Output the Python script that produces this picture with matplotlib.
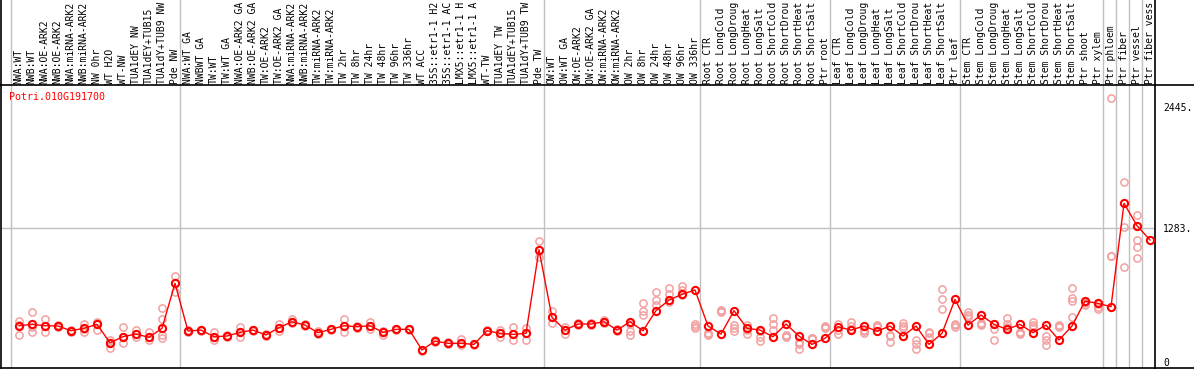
#Potri.010G191700 表达谱图, 88 个样品, 均值连线 + 重复点
import numpy as np
from matplotlib import pyplot as plt
from matplotlib.lines import Line2D

gene = 'Potri.010G191700'
samples = ['NWA:WT','NWB:WT','NWA:OE-ARK2','NWB:OE-ARK2','NWA:miRNA-ARK2','NWB:miRNA-ARK2',
           'NW 0hr','WT H2O','WT-NW','TUA1dEY NW','TUA1dEY+TUB15','TUA1dY+TUB9 NW','Pde NW',
           'NWA:WT GA','NWBWT GA','TW:WT','TW:WT GA','NWA:OE-ARK2 GA','NWB:OE-ARK2 GA','TW:OE-ARK2',
           'TW:OE-ARK2 GA','NWA:miRNA-ARK2','NWB:miRNA-ARK2','TW:miRNA-ARK2','TW:miRNA-ARK2',
           'TW 2hr','TW 8hr','TW 24hr','TW 48hr','TW 96hr','TW 336hr','WT ACC',
           '35S::etr1-1 H2','35S::etr1-1 AC','LMX5::etr1-1 H','LMX5::etr1-1 A','WT-TW',
           'TUA1dEY TW','TUA1dEY+TUB15','TUA1dY+TUB9 TW','Pde TW',
           'OW:WT','OW:WT GA','OW:OE-ARK2','OW:OE-ARK2 GA','OW:miRNA-ARK2','OW:miRNA-ARK2',
           'OW 2hr','OW 8hr','OW 24hr','OW 48hr','OW 96hr','OW 336hr',
           'Root CTR','Root LongCold','Root LongDroug','Root LongHeat','Root LongSalt',
           'Root ShortCold','Root ShortDrou','Root ShortHeat','Root ShortSalt','Ptr root',
           'Leaf CTR','Leaf LongCold','Leaf LongDroug','Leaf LongHeat','Leaf LongSalt',
           'Leaf ShortCold','Leaf ShortDrou','Leaf ShortHeat','Leaf ShortSalt','Ptr leaf',
           'Stem CTR','Stem LongCold','Stem LongDroug','Stem LongHeat','Stem LongSalt',
           'Stem ShortCold','Stem ShortDrou','Stem ShortHeat','Stem ShortSalt','Ptr shoot',
           'Ptr xylem','Ptr phloem','Ptr fiber','Ptr vessel','Ptr fiber vess']
means = [348,361,348,345,300,323,361,185,243,268,237,323,754,
         297,306,243,249,284,306,259,329,386,354,281,313,348,338,348,284,313,313,115,
         201,179,179,169,300,275,265,275,1076,
         428,306,364,364,386,306,386,300,492,594,648,690,
         345,268,492,323,306,243,364,249,169,227,
         338,306,345,295,345,249,345,169,275,600,
         354,450,361,313,361,281,354,211,345,584,562,
         530,1520,1306,1169]
reps = [[396,352,255],[476,340,284],[409,345,284],[355,345,335],[310,300,290],[368,320,284],
        [386,375,307],[211,185,131],[332,243,185],[306,268,237],[284,237,211],[514,409,260,230],
        [826,754,673],
        [305,297,290],[310,306,300],[283,243,211],[255,249,243],[335,284,237],[310,306,300],
        [270,259,245],[365,329,300],[409,386,370],[362,354,345],[300,281,265],[320,313,305],
        [409,348,290],[345,338,330],[386,348,320],[295,284,258],[318,313,308],[318,313,308],
        [120,115,110],[215,201,190],[190,179,170],[218,179,160],[175,169,160],[305,300,295],
        [307,275,243],[335,265,211],[323,275,211],[1156,1076,1003],
        [489,428,377],[340,306,270],[370,364,358],[375,364,355],[400,386,372],[312,306,300],
        [364,300,258],[568,492,451],[673,594,546],[706,648,578],[728,690,642],[360,345,330],
        [278,268,258],[500,492,484],[351,323,295],[351,306,270],[300,243,200],[425,364,310],
        [262,249,236],[190,169,121],[235,227,220],[348,338,330],
        [364,306,270],[386,345,320],[310,295,280],[355,345,335],[262,249,195],[377,345,330],
        [211,169,121],[285,275,237],[696,600,504],
        [365,354,340],[482,450,430],[370,361,350],[361,313,211],[418,361,340],[292,281,270],
        [386,354,340],[249,211,162],[355,345,335],[706,610,584,428],[575,562,550],
        [560,530,510],[2526,1015,1015],[1721,1290,907],[1408,1169,1099,993]]
group_edges = [0, 13, 41, 53, 63, 73, 84, 85, 86, 87]   #组分隔线位置
yticks = [0, 1283, 2445]
ytlabels = ['0', '1283.', '2445.']

W = 1194; H = 370
fig = plt.figure(figsize=(W/100., H/100.), dpi=100)
ax = fig.add_axes([1./W, (H-368.)/H, 1154./W, 283./H])
lab = fig.add_axes([1./W, (H-85.)/H, 1154./W, 85./H])
mono = 'DejaVu Sans Mono'
xl = (-10./13, 88)
gray = '#c0c0c0'

xs = np.arange(len(means)) + 8./13
rx = []; ry = []
for i in range(len(reps)):
    for v in reps[i]:
        rx.append(xs[i]); ry.append(v)

for e in group_edges:
    ax.axvline(e, color=gray, lw=1, zorder=0)
    lab.axvline(e, color=gray, lw=1, zorder=0)
ax.axhline(1283, color=gray, lw=1, zorder=0)

ax.plot(rx, ry, ls='none', marker='o', ms=5.2, mfc='none', mec='#f2a0a0', mew=1.1, zorder=2)
ax.plot(xs, means, color='red', lw=1.0, zorder=3)
ax.plot(xs, means, ls='none', marker='o', ms=5.2, mfc='none', mec='red', mew=1.5, zorder=4)

ax.set_xlim(xl)
ax.set_ylim(-57, 2653)
ax.set_xticks([])
ax.yaxis.tick_right()
ax.set_yticks(yticks)
ax.set_yticklabels(ytlabels, family=mono, fontsize=7)
ax.tick_params(axis='y', length=0, pad=6)
ax.spines['top'].set_visible(False)
for s in ax.spines.values():
    s.set_linewidth(1.2)

#样品名称(竖排)
lab.set_xlim(xl)
lab.set_ylim(85, 0)
lab.set_xticks([]); lab.set_yticks([])
lab.spines['top'].set_visible(False)
for s in lab.spines.values():
    s.set_linewidth(1.2)
for i in range(len(samples)):
    lab.text(i + 0.6, 83.5, samples[i], rotation=90, ha='center', va='bottom',
             family=mono, fontsize=7, clip_on=False)

#右侧延长的横线
for y in [85., 368.]:
    fig.add_artist(Line2D([1155./W, 1], [(H-y)/H]*2, color='black', lw=1.2,
                          transform=fig.transFigure))
fig.text(9./W, 1-97./H, gene, color='red', ha='left', va='center', family=mono, fontsize=7.2)

fig.savefig('out.png', dpi=100)
